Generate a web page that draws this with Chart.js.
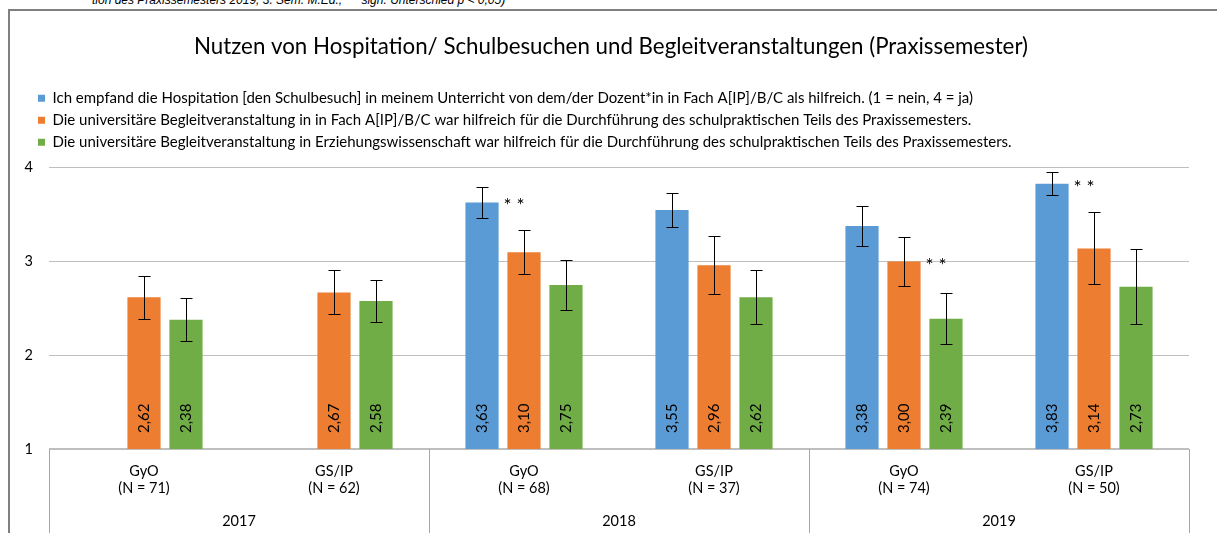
<!DOCTYPE html>
<html>
<head>
<meta charset="utf-8">
<script src="https://cdn.jsdelivr.net/npm/chart.js@4.4.1/dist/chart.umd.min.js"></script>
<style>
  html, body { margin: 0; padding: 0; background: #fff; overflow: hidden; }
  #wrap { position: relative; width: 1217px; height: 533px; overflow: hidden; }
  #note { position: absolute; left: 92px; top: -7px; font: italic 12px "Liberation Sans", Arial, sans-serif; color: #000; white-space: pre; }
  #frame { position: absolute; left: 8px; top: 9px; width: 1300px; height: 700px; border-left: 2px solid #808080; border-top: 2px solid #808080; }
  canvas { position: absolute; left: 0; top: 0; }
</style>
</head>
<body>
<div id="wrap">
  <div id="note">tion des Praxissemesters 2019, 3. Sem. M.Ed.,  ** sign. Unterschied p &lt; 0,05)</div>
  <div id="frame"></div>
  <canvas id="chart" width="1217" height="533"></canvas>
</div>
<script>
// Kategorien (Schulform + Stichprobe) und Jahre
const groups = [
    ['GyO', '(N = 71)'],
    ['GS/IP', '(N = 62)'],
    ['GyO', '(N = 68)'],
    ['GS/IP', '(N = 37)'],
    ['GyO', '(N = 74)'],
    ['GS/IP', '(N = 50)']
];
const years = ['2017', '2018', '2019'];

// Mittelwerte
const hospitation = [null, null, 3.63, 3.55, 3.38, 3.83];
const fachBegleit = [2.62, 2.67, 3.10, 2.96, 3.00, 3.14];
const ewBegleit = [2.38, 2.58, 2.75, 2.62, 2.39, 2.73];

// Fehlerbalken (+/-)
const hospitationErr = [null, null, 0.17, 0.18, 0.21, 0.12];
const fachBegleitErr = [0.23, 0.235, 0.235, 0.31, 0.265, 0.385];
const ewBegleitErr = [0.23, 0.22, 0.265, 0.29, 0.27, 0.40];

// signifikante Unterschiede (**)
const hospitationSig = [false, false, true, false, false, true];
const fachBegleitSig = [false, false, false, false, true, false];
const ewBegleitSig = [false, false, false, false, false, false];

const yTicks = [1, 2, 3, 4];

const FONT = 'Lato';

// Fehlerbalken, Werte und Sternchen zeichnen
const barExtras = {
    id: 'barExtras',
    beforeInit(chart) {
        // etwas mehr Platz unter der Legende
        const fit = chart.legend.fit;
        chart.legend.fit = function () {
            fit.call(this);
            this.height += 8;
        };
    },
    afterLayout(chart) {
        // Legende und Titel nach rechts schieben (y-Achse bleibt breit)
        chart.legend.left += 22;
        chart.legend.right += 22;
        chart.titleBlock.left += 12;
        chart.titleBlock.right += 12;
    },
    afterDatasetsDraw(chart) {
        const { ctx, scales: { y } } = chart;
        const base = y.getPixelForValue(1);
        ctx.save();
        chart.data.datasets.forEach((ds, i) => {
            const meta = chart.getDatasetMeta(i);
            meta.data.forEach((bar, j) => {
                const v = ds.data[j];
                if (v == null) return;
                const e = ds.errors[j];
                const x = Math.round(bar.x) + 0.5;
                // Fehlerbalken
                const top = Math.round(y.getPixelForValue(v + e)) + 0.5;
                const bot = Math.round(y.getPixelForValue(v - e)) + 0.5;
                ctx.strokeStyle = '#000';
                ctx.lineWidth = 1;
                ctx.beginPath();
                ctx.moveTo(x, top); ctx.lineTo(x, bot);
                ctx.moveTo(x - 6, top); ctx.lineTo(x + 6, top);
                ctx.moveTo(x - 6, bot); ctx.lineTo(x + 6, bot);
                ctx.stroke();
                // Wert (gedreht)
                ctx.save();
                ctx.translate(bar.x, base - 16);
                ctx.rotate(-Math.PI / 2);
                ctx.fillStyle = '#000';
                ctx.font = '15px ' + FONT;
                ctx.textAlign = 'left';
                ctx.textBaseline = 'middle';
                ctx.fillText(v.toFixed(2).replace('.', ','), 0, 0);
                ctx.restore();
                // Sternchen
                if (ds.sig[j]) {
                    ctx.fillStyle = '#000';
                    ctx.font = '19px ' + FONT;
                    ctx.textAlign = 'left';
                    ctx.textBaseline = 'alphabetic';
                    ctx.fillText('* *', bar.x + bar.width / 2 + 5, bar.y + 10);
                }
            });
        });
        ctx.restore();
    },
    afterDraw(chart) {
        // Trennlinien unter der x-Achse
        const { ctx, scales: { x }, chartArea } = chart;
        const lines = [
            x.left,
            (x.getPixelForValue(1) + x.getPixelForValue(2)) / 2,
            (x.getPixelForValue(3) + x.getPixelForValue(4)) / 2,
            x.right
        ];
        ctx.save();
        ctx.strokeStyle = '#a6a6a6';
        ctx.lineWidth = 1;
        ctx.beginPath();
        lines.forEach(px => {
            const xx = Math.round(px) + 0.5;
            ctx.moveTo(xx, chartArea.bottom);
            ctx.lineTo(xx, chart.height);
        });
        ctx.stroke();
        ctx.restore();
    }
};

Chart.defaults.font.family = FONT;
Chart.defaults.color = '#000';

const ctx = document.getElementById('chart').getContext('2d');
const chart = new Chart(ctx, {
    type: 'bar',
    data: {
        labels: groups,
        datasets: [
            {
                label: 'Ich empfand die Hospitation [den Schulbesuch] in meinem Unterricht von dem/der Dozent*in in Fach A[IP]/B/C als hilfreich. (1 = nein, 4 = ja)',
                data: hospitation,
                errors: hospitationErr,
                sig: hospitationSig,
                backgroundColor: '#5b9bd5'
            },
            {
                label: 'Die universitäre Begleitveranstaltung in in Fach A[IP]/B/C war hilfreich für die Durchführung des schulpraktischen Teils des Praxissemesters.',
                data: fachBegleit,
                errors: fachBegleitErr,
                sig: fachBegleitSig,
                backgroundColor: '#ed7d31'
            },
            {
                label: 'Die universitäre Begleitveranstaltung in Erziehungswissenschaft war hilfreich für die Durchführung des schulpraktischen Teils des Praxissemesters.',
                data: ewBegleit,
                errors: ewBegleitErr,
                sig: ewBegleitSig,
                backgroundColor: '#70ad47'
            }
        ]
    },
    options: {
        responsive: false,
        animation: false,
        devicePixelRatio: 1,
        categoryPercentage: 0.663,
        barPercentage: 0.79,
        layout: { padding: { left: 9, right: 28, top: 0, bottom: 0 } },
        plugins: {
            title: {
                display: true,
                text: 'Nutzen von Hospitation/ Schulbesuchen und Begleitveranstaltungen (Praxissemester)',
                font: { size: 22.3, weight: 'normal', lineHeight: 1.2 },
                padding: { top: 33, bottom: 24 }
            },
            legend: {
                position: 'top',
                align: 'start',
                labels: {
                    boxWidth: 7,
                    boxHeight: 7,
                    padding: 7,
                    font: { size: 15 }
                }
            },
            tooltip: { enabled: false }
        },
        scales: {
            x: {
                grid: { display: false, drawTicks: false },
                border: { display: false },
                ticks: { padding: 14, font: { size: 14.5, lineHeight: 1.17 } },
                afterFit(scale) { scale.height = 48; }
            },
            x2: {
                type: 'category',
                position: 'bottom',
                labels: years,
                offset: true,
                grid: { display: false, drawTicks: false },
                border: { display: false },
                ticks: { padding: 15.5, font: { size: 14.5, lineHeight: 1.17 } },
                afterFit(scale) { scale.height = 36; }
            },
            y: {
                min: 1,
                max: 4,
                afterBuildTicks(scale) { scale.ticks = yTicks.map(v => ({ value: v })); },
                border: { display: false },
                grid: {
                    drawTicks: false,
                    color: '#bfbfbf',
                    lineWidth: c => (c.tick && c.tick.value === 1 ? 2 : 1)
                },
                ticks: { padding: 16, font: { size: 14.5 } },
                afterFit(scale) { scale.width = 40; }
            }
        }
    },
    plugins: [barExtras]
});
</script>
</body>
</html>
